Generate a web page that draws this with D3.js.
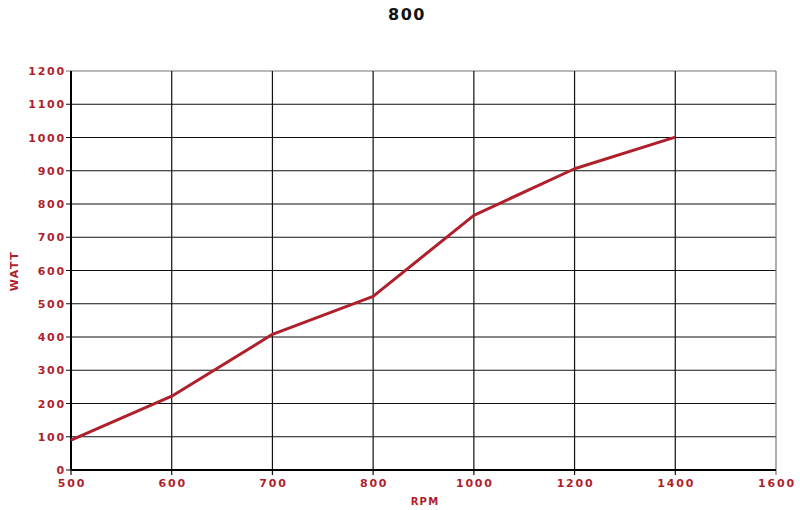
<!DOCTYPE html>
<html>
<head>
<meta charset="utf-8">
<script src="https://cdn.jsdelivr.net/npm/d3@7"></script>
<style>
  body { margin: 0; background: #fff; }
  text { font-family: "DejaVu Sans", sans-serif; font-weight: bold; }
</style>
</head>
<body>
<script>
// chart data
const rpmTicks = ["500", "600", "700", "800", "1000", "1200", "1400", "1600"];
const rpm = ["500", "600", "700", "800", "1000", "1200", "1400"];
const watt = [90, 222, 408, 522, 766, 906, 1001];
const wattTicks = [0, 100, 200, 300, 400, 500, 600, 700, 800, 900, 1000, 1100, 1200];

const red = "#b01f2c";
const margin = {top: 71, right: 24, bottom: 40, left: 71};
const width = 800, height = 510;

const svg = d3.select("body").append("svg")
    .attr("width", width)
    .attr("height", height);

const x = d3.scalePoint().domain(rpmTicks).range([margin.left, width - margin.right]);
const y = d3.scaleLinear().domain([0, 1200]).range([height - margin.bottom, margin.top]);

// horizontal grid
svg.append("g")
  .selectAll("line")
  .data(wattTicks)
  .enter().append("line")
    .attr("x1", x.range()[0] - 5)
    .attr("x2", x.range()[1])
    .attr("y1", d => y(d))
    .attr("y2", d => y(d))
    .attr("stroke", d => d === 1200 ? "#777" : "#111")
    .attr("stroke-width", 1.2);

// vertical grid
svg.append("g")
  .selectAll("line")
  .data(rpmTicks)
  .enter().append("line")
    .attr("x1", d => x(d))
    .attr("x2", d => x(d))
    .attr("y1", y(1200))
    .attr("y2", y(0) + 5)
    .attr("stroke", d => d === "1600" ? "#777" : "#111")
    .attr("stroke-width", 1.2);

// axis lines (thicker)
svg.append("line")
    .attr("x1", x.range()[0]).attr("x2", x.range()[0])
    .attr("y1", y(1200)).attr("y2", y(0))
    .attr("stroke", "#000").attr("stroke-width", 2);
svg.append("line")
    .attr("x1", x.range()[0]).attr("x2", x.range()[1])
    .attr("y1", y(0)).attr("y2", y(0))
    .attr("stroke", "#000").attr("stroke-width", 2);

// y tick labels
svg.append("g")
  .selectAll("text")
  .data(wattTicks)
  .enter().append("text")
    .attr("x", x.range()[0] - 5)
    .attr("y", d => y(d) + 4)
    .attr("text-anchor", "end")
    .attr("font-size", 11)
    .attr("letter-spacing", 1.8)
    .attr("fill", red)
    .text(d => d);

// x tick labels
svg.append("g")
  .selectAll("text")
  .data(rpmTicks)
  .enter().append("text")
    .attr("x", d => x(d) + 1)
    .attr("y", y(0) + 17)
    .attr("text-anchor", "middle")
    .attr("font-size", 11)
    .attr("letter-spacing", 1.8)
    .attr("fill", red)
    .text(d => d);

// data line
const line = d3.line()
    .x((d, i) => x(rpm[i]))
    .y(d => y(d));

svg.append("path")
    .datum(watt)
    .attr("d", line)
    .attr("fill", "none")
    .attr("stroke", red)
    .attr("stroke-width", 3)
    .attr("stroke-linejoin", "round");

// titles
svg.append("text")
    .attr("x", 407)
    .attr("y", 20)
    .attr("text-anchor", "middle")
    .attr("font-size", 16)
    .attr("letter-spacing", 1.5)
    .attr("fill", "#111")
    .text("800");

svg.append("text")
    .attr("x", 425)
    .attr("y", 505)
    .attr("text-anchor", "middle")
    .attr("font-size", 10)
    .attr("letter-spacing", 1.2)
    .attr("fill", red)
    .text("RPM");

svg.append("text")
    .attr("transform", "translate(18,271) rotate(-90)")
    .attr("text-anchor", "middle")
    .attr("font-size", 11)
    .attr("letter-spacing", 1.5)
    .attr("fill", red)
    .text("WATT");
</script>
</body>
</html>
